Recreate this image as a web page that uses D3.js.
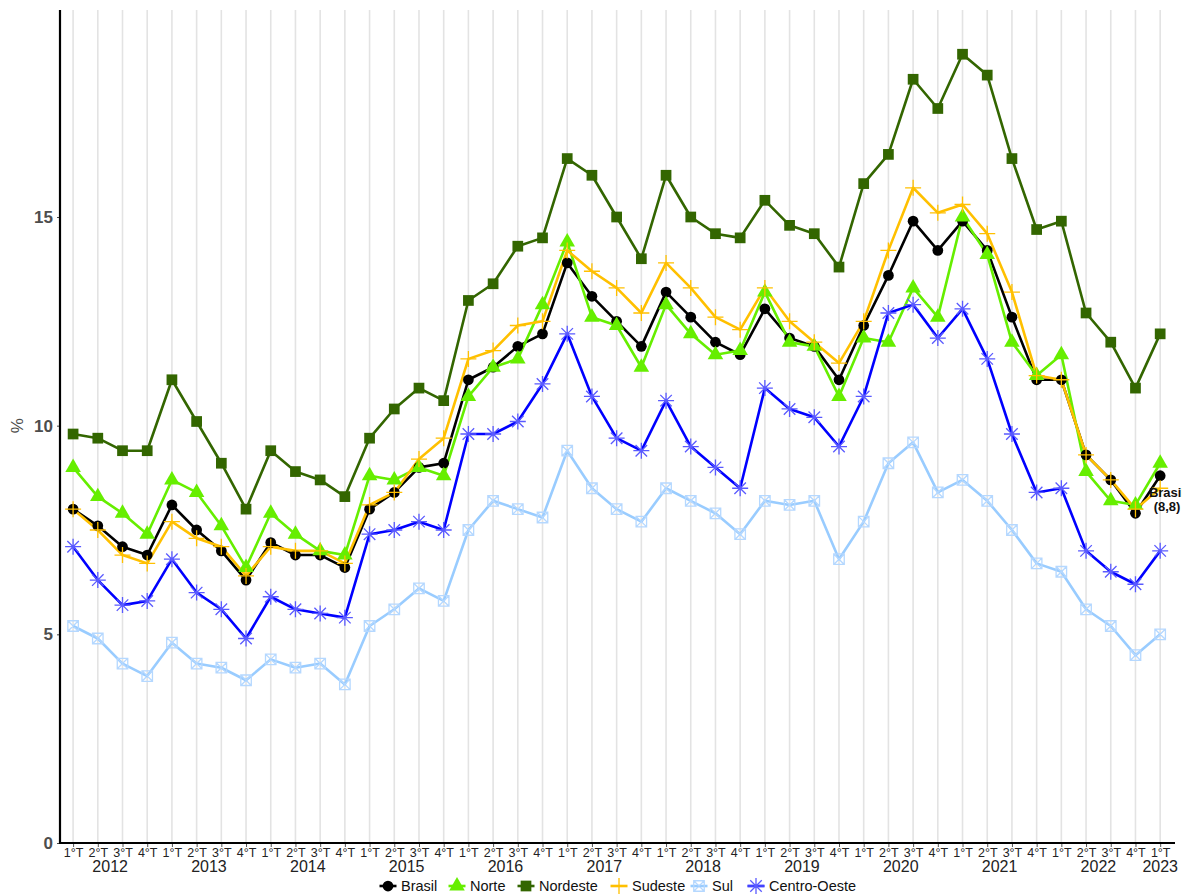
<!DOCTYPE html>
<html>
<head>
<meta charset="utf-8">
<script src="https://cdn.jsdelivr.net/npm/d3@7"></script>
<style>
  body { margin: 0; background: #fff; }
  svg { display: block; font-family: "Liberation Sans", Arial, sans-serif; }
</style>
</head>
<body>
<div id="chart"></div>
<script>
// Quarterly unemployment rate by region (%), 1ºT 2012 .. 1ºT 2023
const years = [2012, 2013, 2014, 2015, 2016, 2017, 2018, 2019, 2020, 2021, 2022, 2023];
const quarterLabels = ["1°T", "2°T", "3°T", "4°T"];

const brasil = [8.0, 7.6, 7.1, 6.9, 8.1, 7.5, 7.0, 6.3, 7.2, 6.9, 6.9, 6.6,
  8.0, 8.4, 9.0, 9.1, 11.1, 11.4, 11.9, 12.2, 13.9, 13.1, 12.5, 11.9,
  13.2, 12.6, 12.0, 11.7, 12.8, 12.1, 11.9, 11.1, 12.4, 13.6, 14.9, 14.2,
  14.9, 14.2, 12.6, 11.1, 11.1, 9.3, 8.7, 7.9, 8.8];
const norte = [9.0, 8.3, 7.9, 7.4, 8.7, 8.4, 7.6, 6.6, 7.9, 7.4, 7.0, 6.9,
  8.8, 8.7, 9.0, 8.8, 10.7, 11.4, 11.6, 12.9, 14.4, 12.6, 12.4, 11.4,
  12.9, 12.2, 11.7, 11.8, 13.2, 12.0, 11.9, 10.7, 12.1, 12.0, 13.3, 12.6,
  15.0, 14.1, 12.0, 11.2, 11.7, 8.9, 8.2, 8.1, 9.1];
const nordeste = [9.8, 9.7, 9.4, 9.4, 11.1, 10.1, 9.1, 8.0, 9.4, 8.9, 8.7, 8.3,
  9.7, 10.4, 10.9, 10.6, 13.0, 13.4, 14.3, 14.5, 16.4, 16.0, 15.0, 14.0,
  16.0, 15.0, 14.6, 14.5, 15.4, 14.8, 14.6, 13.8, 15.8, 16.5, 18.3, 17.6,
  18.9, 18.4, 16.4, 14.7, 14.9, 12.7, 12.0, 10.9, 12.2];
const sudeste = [8.0, 7.5, 6.9, 6.7, 7.7, 7.3, 7.1, 6.4, 7.1, 7.0, 7.0, 6.7,
  8.1, 8.4, 9.2, 9.7, 11.6, 11.8, 12.4, 12.5, 14.2, 13.7, 13.3, 12.7,
  13.9, 13.3, 12.6, 12.3, 13.3, 12.5, 12.0, 11.5, 12.5, 14.2, 15.7, 15.1,
  15.3, 14.6, 13.2, 11.2, 11.1, 9.3, 8.7, 8.0, 8.5];
const sul = [5.2, 4.9, 4.3, 4.0, 4.8, 4.3, 4.2, 3.9, 4.4, 4.2, 4.3, 3.8,
  5.2, 5.6, 6.1, 5.8, 7.5, 8.2, 8.0, 7.8, 9.4, 8.5, 8.0, 7.7,
  8.5, 8.2, 7.9, 7.4, 8.2, 8.1, 8.2, 6.8, 7.7, 9.1, 9.6, 8.4,
  8.7, 8.2, 7.5, 6.7, 6.5, 5.6, 5.2, 4.5, 5.0];
const centroOeste = [7.1, 6.3, 5.7, 5.8, 6.8, 6.0, 5.6, 4.9, 5.9, 5.6, 5.5, 5.4,
  7.4, 7.5, 7.7, 7.5, 9.8, 9.8, 10.1, 11.0, 12.2, 10.7, 9.7, 9.4,
  10.6, 9.5, 9.0, 8.5, 10.9, 10.4, 10.2, 9.5, 10.7, 12.7, 12.9, 12.1,
  12.8, 11.6, 9.8, 8.4, 8.5, 7.0, 6.5, 6.2, 7.0];

const yTicks = [0, 5, 10, 15];

// build quarter index list
const quarters = [];
years.forEach(y => {
    const n = y === 2023 ? 1 : 4;
    for (let q = 0; q < n; q++) quarters.push({ year: y, label: quarterLabels[q] });
});

const series = [
    { name: "Brasil", values: brasil, color: "#000000", mark: "circle" },
    { name: "Norte", values: norte, color: "#66ee00", mark: "triangle" },
    { name: "Nordeste", values: nordeste, color: "#336600", mark: "square" },
    { name: "Sudeste", values: sudeste, color: "#ffc000", mark: "plus" },
    { name: "Sul", values: sul, color: "#99ccff", mark: "boxx" },
    { name: "Centro-Oeste", values: centroOeste, color: "#0000ff", mark: "star" }
];

const width = 1182, height = 894;
const margin = { left: 60, right: 7, top: 10, bottom: 51 };

const svg = d3.select("#chart").append("svg")
    .attr("width", width)
    .attr("height", height);

const x = d3.scaleLinear()
    .domain([-0.53, quarters.length - 1 + 0.6])
    .range([margin.left, width - margin.right]);
const y = d3.scaleLinear()
    .domain([0, 19.96])
    .range([height - margin.bottom, margin.top]);

// vertical grid lines at each quarter
svg.append("g")
    .selectAll("line")
    .data(quarters)
    .join("line")
    .attr("x1", (d, i) => x(i))
    .attr("x2", (d, i) => x(i))
    .attr("y1", y.range()[1])
    .attr("y2", y.range()[0])
    .style("stroke", "#e3e3e3")
    .style("stroke-width", 1.6);

// axes
const yAxis = svg.append("g")
    .attr("transform", `translate(${margin.left},0)`)
    .call(d3.axisLeft(y).tickValues(yTicks).tickSize(3).tickPadding(4));
yAxis.select(".domain").remove();
yAxis.selectAll(".tick line").style("stroke", "#444").style("stroke-width", 1);
yAxis.selectAll(".tick text")
    .style("font-size", "17px")
    .style("font-weight", "bold")
    .style("fill", "#4d4d4d")
    .style("font-family", "'Liberation Sans', Arial, sans-serif");

const xAxis = svg.append("g")
    .attr("transform", `translate(0,${height - margin.bottom})`)
    .call(d3.axisBottom(x)
        .tickValues(d3.range(quarters.length))
        .tickFormat(i => quarters[i].label)
        .tickSize(4).tickPadding(1));
xAxis.select(".domain").remove();
xAxis.selectAll(".tick line").style("stroke", "#555").style("stroke-width", 1);
xAxis.selectAll(".tick text")
    .style("font-size", "12.5px")
    .style("fill", "#222")
    .style("font-family", "'Liberation Sans', Arial, sans-serif");

// axis lines
svg.append("line")
    .attr("x1", margin.left).attr("x2", margin.left)
    .attr("y1", margin.top).attr("y2", height - margin.bottom + 1)
    .style("stroke", "#000").style("stroke-width", 2.2);
svg.append("line")
    .attr("x1", margin.left - 1).attr("x2", width - margin.right)
    .attr("y1", height - margin.bottom).attr("y2", height - margin.bottom)
    .style("stroke", "#000").style("stroke-width", 2.2);

// year labels centred under each year's quarters
const yearGroups = d3.groups(quarters.map((d, i) => ({ ...d, i })), d => d.year);
svg.append("g")
    .selectAll("text")
    .data(yearGroups)
    .join("text")
    .attr("x", d => x(d3.mean(d[1], e => e.i)))
    .attr("y", 872)
    .attr("text-anchor", "middle")
    .style("font-size", "16px")
    .style("fill", "#222")
    .text(d => d[0]);

// y title
svg.append("text")
    .attr("transform", `translate(23,${y(10)}) rotate(-90)`)
    .attr("text-anchor", "middle")
    .style("font-size", "17px")
    .style("fill", "#4d4d4d")
    .text("%");

// marker paths
function markPath(type, s) {
    const h = s / 2;
    switch (type) {
        case "circle": return d3.symbol(d3.symbolCircle, s * s * 0.75)();
        case "triangle": return d3.symbol(d3.symbolTriangle, s * s * 0.62)();
        case "square": return d3.symbol(d3.symbolSquare, s * s * 0.95)();
        case "plus": return `M${-h},0H${h}M0,${-h}V${h}`;
        case "boxx": {
            const b = h * 0.75;
            return `M${-b},${-b}H${b}V${b}H${-b}ZM${-b},${-b}L${b},${b}M${b},${-b}L${-b},${b}`;
        }
        case "star": {
            const d = h * 0.72;
            return `M${-h},0H${h}M0,${-h}V${h}M${-d},${-d}L${d},${d}M${d},${-d}L${-d},${d}`;
        }
    }
}
const filled = t => t === "circle" || t === "triangle" || t === "square";
const markSize = { circle: 11, triangle: 13, square: 11, plus: 16, boxx: 14, star: 16 };
const markColor = d => d.mark === "star" ? "#5a5aff" : d.mark === "boxx" ? "#b5d8ff" : d.color;

const line = d3.line()
    .x((d, i) => x(i))
    .y(d => y(d));

// lines first, then points (ggplot layer order)
svg.append("g")
    .selectAll("path")
    .data(series)
    .join("path")
    .attr("d", d => line(d.values))
    .style("fill", "none")
    .style("stroke", d => d.color)
    .style("stroke-width", 2.6)
    .style("stroke-linejoin", "round");

const pts = svg.append("g")
    .selectAll("g")
    .data(series)
    .join("g");
pts.selectAll("path")
    .data(d => d.values.map((v, i) => ({ v, i, s: d })))
    .join("path")
    .attr("transform", d => `translate(${x(d.i)},${y(d.v)})`)
    .attr("d", d => markPath(d.s.mark, markSize[d.s.mark]))
    .style("fill", d => filled(d.s.mark) ? d.s.color : "none")
    .style("stroke", d => filled(d.s.mark) ? "none" : markColor(d.s))
    .style("stroke-width", 1.3);

// end label for Brasil (runs past the right edge, as in the original)
const last = brasil.length - 1;
const endLabel = svg.append("text")
    .attr("text-anchor", "middle")
    .style("font-size", "13px")
    .style("font-weight", "bold")
    .style("fill", "#111");
endLabel.append("tspan").attr("x", 1167).attr("y", y(brasil[last]) + 21).text("Brasil");
endLabel.append("tspan").attr("x", 1167).attr("y", y(brasil[last]) + 35)
    .text(`(${String(brasil[last]).replace(".", ",")})`);

// legend
const legendX = [388, 457, 526, 619, 699, 756];
const legend = svg.append("g")
    .selectAll("g")
    .data(series)
    .join("g")
    .attr("transform", (d, i) => `translate(${legendX[i]},886)`);
legend.append("line")
    .attr("x1", -8.5).attr("x2", 8.5)
    .style("stroke", d => d.color)
    .style("stroke-width", 2.6);
legend.append("path")
    .attr("d", d => markPath(d.mark, markSize[d.mark]))
    .style("fill", d => filled(d.mark) ? d.color : "none")
    .style("stroke", d => filled(d.mark) ? "none" : markColor(d))
    .style("stroke-width", 1.3);
legend.append("text")
    .attr("x", 13)
    .attr("dy", "0.35em")
    .style("font-size", "14.5px")
    .style("fill", "#111")
    .text(d => d.name);
</script>
</body>
</html>
